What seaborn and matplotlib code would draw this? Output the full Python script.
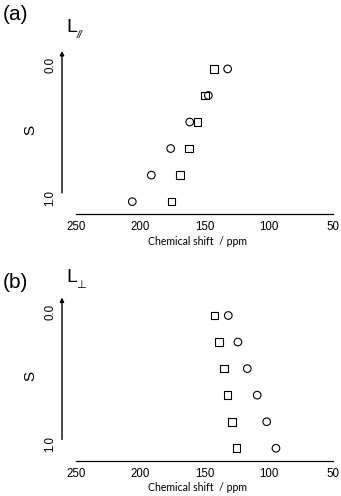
import numpy as np
import pandas as pd
import matplotlib
matplotlib.use("Agg")
import matplotlib.pyplot as plt
import matplotlib.transforms as mtransforms
import seaborn as sns

# order parameter S, top row = 0.0, bottom row = 1.0
s_values = [0.0, 0.2, 0.4, 0.6, 0.8, 1.0]

# L// panel
par_square = [142.4, 149.6, 155.6, 162.3, 169.0, 175.8]
par_circle = [132.0, 147.0, 161.5, 176.3, 191.4, 206.2]

# L-perp panel
perp_square = [142.1, 138.7, 135.0, 132.0, 128.4, 125.2]
perp_circle = [131.5, 124.0, 116.7, 109.0, 101.6, 94.4]

x_ticks = [250, 200, 150, 100, 50]

sns.set_theme(style="white")
plt.rcParams["font.family"] = ["Liberation Sans", "DejaVu Sans"]
plt.rcParams["text.color"] = "black"
plt.rcParams["axes.labelcolor"] = "black"
plt.rcParams["xtick.color"] = "black"
plt.rcParams["ytick.color"] = "black"

W, H = 341, 496
fig = plt.figure(figsize=(W / 100, H / 100), dpi=100)


def px_axes(left, top, right, bottom):
    return fig.add_axes([left / W, 1 - bottom / H, (right - left) / W, (bottom - top) / H])


def panel(ax, squares, circles):
    df = pd.DataFrame({
        "shift": squares + circles,
        "S": s_values + s_values,
        "kind": ["sq"] * len(squares) + ["ci"] * len(circles),
    })
    sns.scatterplot(data=df[df.kind == "sq"], x="shift", y="S", marker="s", s=30,
                    facecolor="none", edgecolor="black", linewidth=0.8, ax=ax)
    sns.scatterplot(data=df[df.kind == "ci"], x="shift", y="S", marker="o", s=30,
                    facecolor="none", edgecolor="black", linewidth=0.8, ax=ax)
    ax.set_xlim(260.9, 50)
    ax.set_ylim(1.093, -0.18)
    for side in ["top", "right", "left"]:
        ax.spines[side].set_visible(False)
    ax.spines["bottom"].set_bounds(250, 50)
    ax.spines["bottom"].set_color("black")
    ax.spines["bottom"].set_linewidth(0.9)
    ax.set_xticks(x_ticks)
    ax.set_xticklabels([str(t) for t in x_ticks], fontsize=8.3)
    ax.tick_params(axis="x", direction="out", length=2, width=0.8, pad=3, colors="black")
    ax.set_xlabel("Chemical shift  / ppm", fontsize=7.6, family=["Lato", "DejaVu Sans"], labelpad=2)
    ax.set_yticks([0.0, 1.0])
    ax.set_yticklabels(["0.0", "1.0"], rotation=90, va="center", fontsize=8.3)
    ax.tick_params(axis="y", length=0, pad=4)
    off = mtransforms.ScaledTranslation(0, 4 / 100, fig.dpi_scale_trans)
    for lab in ax.get_yticklabels():
        lab.set_transform(lab.get_transform() + off)
    ax.set_ylabel("S", fontsize=11, labelpad=5)
    ax.annotate("", xy=(0, 0.965), xycoords="axes fraction", xytext=(0, 0.125),
                arrowprops=dict(arrowstyle="-|>", color="black", lw=1.0,
                                mutation_scale=6, shrinkA=0, shrinkB=0))
    ax.patch.set_alpha(0)


ax1 = px_axes(62, 45, 333, 214)
panel(ax1, par_square, par_circle)
ax2 = px_axes(62, 291.6, 333, 460.6)
panel(ax2, perp_square, perp_circle)

fig.text(3 / W, 1 - 14 / H, "(a)", fontsize=15, va="center", ha="left")
fig.text(66 / W, 1 - 28 / H, "L", fontsize=14, va="center", ha="left")
fig.text(76.5 / W, 1 - 35 / H, "//", fontsize=7.5, va="center", ha="left", style="italic")

fig.text(3 / W, 1 - 282 / H, "(b)", fontsize=15, va="center", ha="left")
fig.text(66 / W, 1 - 278 / H, "L", fontsize=14, va="center", ha="left")
fig.text(76 / W, 1 - 285 / H, "\u22a5", fontsize=8, va="center", ha="left",
         family=["DejaVu Sans"])

fig.savefig("out.png", dpi=100)
